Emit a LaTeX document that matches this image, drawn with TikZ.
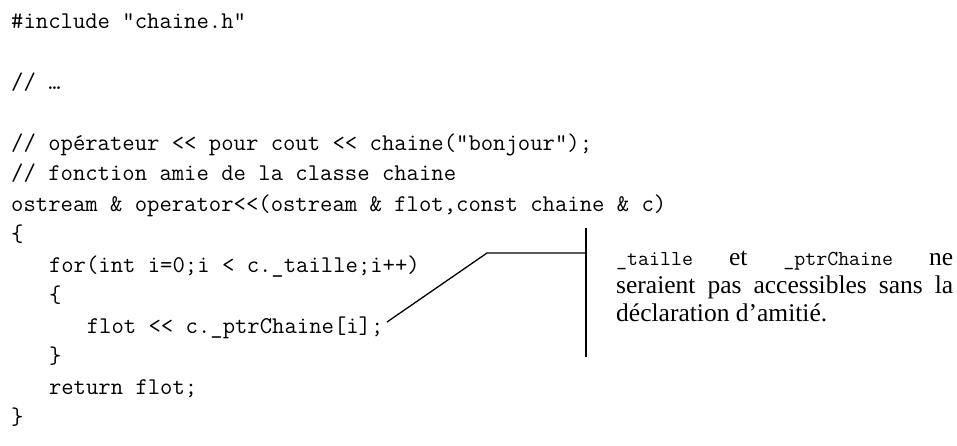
\documentclass[tikz,border=0pt]{standalone}
\usepackage{fontspec}
\setmainfont{Liberation Serif}
\begin{document}
\begin{tikzpicture}[x=1pt,y=-1pt,
  code/.style={anchor=base west,inner sep=0pt,font=\ttfamily\fontsize{24}{28}\selectfont},
  note/.style={anchor=base west,inner sep=0pt,font=\fontsize{25.5}{30}\selectfont},
  leader/.style={line width=1.3pt}]
\useasboundingbox (0,0) rectangle (957,445);
\def\cw{12.6}
\newcommand\notecode[1]{{\ttfamily\fontsize{21.3}{24}\selectfont #1}}
\node[code] (l0) at (11,28) {\#include "chaine.h"};
\node[code] (l2) at (11,89) {// …};
\node[code] (l4) at (11,150) {// opérateur << pour cout << chaine("bonjour");};
\node[code] (l5) at (11,180.5) {// fonction amie de la classe chaine};
\node[code] (l6) at (11,211) {ostream \& operator<<(ostream \& flot,const chaine \& c)};
\node[code] (l7) at (11,241.5) {\{};
\node[code] (l8) at (11+3*\cw,272) {for(int i=0;i < c.\_taille;i++)};
\node[code] (l9) at (11+3*\cw,302.5) {\{};
\node[code] (l10) at (11+6*\cw,333) {flot << c.\_ptrChaine[i];};
\node[code] (l11) at (11+3*\cw,363.5) {\}};
\node[code] (l12) at (11+3*\cw,394) {return flot;};
\node[code] (l13) at (11,424.5) {\}};
% annotation text
\node[note] (n1) at (616,265) {\makebox[337pt][s]{\notecode{\_taille}\hfill et\hfill\notecode{\_ptrChaine}\hfill ne}};
\node[note] (n2) at (616,293) {\makebox[337pt][s]{seraient pas accessibles sans la}};
\node[note] (n3) at (616,321) {déclaration d’amitié.};
% leader lines
\coordinate (tip) at (387,322);
\coordinate (bend) at (487,253);
\coordinate (junc) at (586,253);
\coordinate (vtop) at (586,228);
\coordinate (vbot) at (586,357);
\draw[leader] (tip) -- (bend) -- (junc);
\draw[leader] (vtop) -- (vbot);
\end{tikzpicture}
\end{document}
